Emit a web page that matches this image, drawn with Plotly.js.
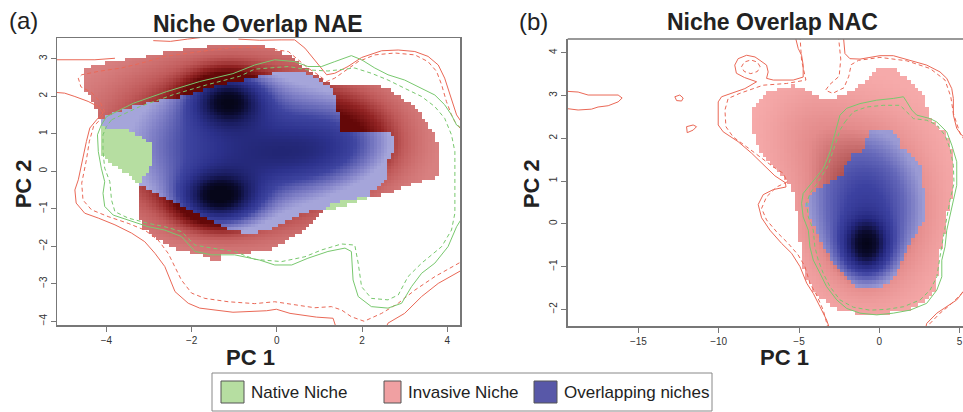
<!DOCTYPE html>
<html><head><meta charset="utf-8">
<script src="https://cdn.plot.ly/plotly-3.0.1.min.js"></script>
<style>html,body{margin:0;padding:0;background:#fff}#chart{width:963px;height:412px}</style>
</head><body><div id="chart"></div>
<script>
// ---------------- Panel (a) NAE : niche outlines (PC1, PC2) ----------------
const nae_inv_x = [-4.49,-4.49,-4.27,-3.80,-3.33,-2.86,-2.39,-1.92,-1.46,-0.91,-0.40,-0.05,0.27,0.50,0.73,0.97,1.17,1.36,1.83,2.22,2.61,2.85,3.16,3.40,3.55,3.71,3.79,3.79,3.75,3.55,3.24,2.93,2.61,2.30,2.07,1.60,1.20,1.05,0.73,0.42,0.11,-0.20,-0.52,-0.83,-1.30,-1.34,-1.53,-1.85,-2.39,-2.79,-3.14,-3.27,-3.27,-3.20,-3.14,-2.90,-2.90,-3.41,-4.12,-4.15,-4.19,-4.27,-4.39];
const nae_inv_y = [2.08,2.75,2.82,2.94,3.01,3.12,3.22,3.28,3.37,3.41,3.37,3.23,3.10,2.92,2.70,2.52,2.39,2.30,2.32,2.30,2.21,2.03,1.77,1.50,1.23,0.97,0.70,0.17,-0.19,-0.23,-0.32,-0.45,-0.59,-0.66,-0.68,-0.78,-0.93,-1.08,-1.48,-1.74,-1.92,-2.10,-2.14,-2.21,-2.23,-2.35,-2.35,-2.21,-2.05,-1.83,-1.52,-1.12,-0.45,-0.30,-0.14,0.17,0.70,1.06,1.19,1.35,1.50,1.72,2.03];
const nae_nat_x = [-4.14,-4.08,-4.04,-3.65,-3.18,-2.71,-2.16,-1.85,-1.30,-0.83,-0.40,-0.20,0.19,0.58,0.85,1.05,1.28,1.40,1.44,1.48,2.22,2.61,2.77,2.77,2.65,2.61,2.54,2.35,2.22,2.14,1.83,1.52,1.17,1.05,0.73,0.42,0.11,-0.20,-0.52,-0.99,-1.30,-1.69,-2.08,-2.47,-2.86,-3.22,-3.41,-3.80,-4.14];
const nae_nat_y = [1.10,1.37,1.46,1.63,1.77,1.90,2.01,2.12,2.30,2.41,2.52,2.59,2.66,2.66,2.52,2.39,2.21,1.95,1.59,1.01,1.01,1.01,0.92,0.61,0.43,0.08,-0.30,-0.42,-0.55,-0.72,-0.84,-0.94,-1.08,-1.03,-1.08,-1.21,-1.39,-1.57,-1.65,-1.61,-1.43,-1.25,-1.03,-0.81,-0.59,-0.37,-0.14,0.12,0.43];
// density kernels read from the shading (centre, spread, weight)
const nae_k_x  = [-0.9, -1.15, -1.35, 1.6, 0.6];
const nae_k_y  = [0.7, 1.9, -0.7, 1.0, 0.4];
const nae_k_sx = [1.8, 0.55, 0.6, 0.9, 1.1];
const nae_k_sy = [1.3, 0.45, 0.45, 0.7, 0.55];
const nae_k_w  = [0.55, 0.7, 0.8, 0.2, 0.22];
// contour lines
const nae_red_solid_x = [-5.3,-4.7,-4.27,-3.8,null,-2.9,-2.5,-2.1,-1.8,null,
 -5.3,-4.98,-4.74,-4.43,-4.19,-4.08,-4.23,-4.39,-4.47,-4.55,-4.62,-4.66,-4.74,-4.71,-4.51,-4.19,-3.80,-3.41,-3.10,-2.86,-2.63,-2.51,-2.39,-2.08,-1.81,-1.03,-0.24,-0.01,0.31,0.93,1.32,1.40,null,
 2.55,2.61,3.00,3.40,3.79,4.40,null,
 -0.9,-0.4,0.1,0.42,0.66,0.85,1.05,1.17,1.36,1.67,1.99,2.46,2.85,3.24,3.55,3.79,3.94,4.10,4.22,4.40];
const nae_red_solid_y = [2.97,2.98,2.97,3.01,null,3.48,3.46,3.52,3.56,null,
 2.11,2.08,1.99,1.86,1.72,1.55,1.37,1.15,0.79,0.35,-0.10,-0.23,-0.50,-0.85,-1.12,-1.25,-1.43,-1.65,-1.88,-2.19,-2.54,-2.90,-3.21,-3.52,-3.65,-3.76,-3.72,-3.68,-3.79,-3.89,-3.92,-4.20,null,
 -4.20,-4.05,-3.79,-3.34,-2.99,-2.60,null,
 3.52,3.49,3.50,3.50,3.28,3.01,2.75,2.57,2.61,2.79,3.03,3.21,3.23,3.19,3.06,2.83,2.48,1.95,1.50,1.20];
const nae_red_dash_x = [4.40,4.18,4.10,3.98,3.87,3.75,3.55,3.24,2.77,2.30,1.91,1.60,1.36,1.17,0.97,0.73,0.50,0.27,-0.44,-0.99,-1.53,-2.08,-2.63,-3.18,-3.65,-4.19,-4.58,-4.66,-4.60,-4.35,-4.15,-4.05,-4.12,-4.30,-4.40,-4.47,-4.55,-4.58,-4.55,-4.35,-3.96,-3.49,-3.10,-2.79,-2.55,-2.39,-2.24,-2.00,-1.69,-1.14,-0.52,-0.05,0.42,0.89,1.28,1.52,1.75,2.05,2.46,2.85,3.24,3.71,4.40];
const nae_red_dash_y = [1.00,1.32,1.50,1.86,2.30,2.66,2.92,3.10,3.15,3.10,2.92,2.66,2.48,2.39,2.57,2.75,2.97,3.19,3.30,3.30,3.23,3.15,3.06,2.88,2.75,2.66,2.57,2.48,2.25,2.10,1.85,1.60,1.40,1.20,0.80,0.30,-0.20,-0.32,-0.77,-1.03,-1.21,-1.39,-1.57,-1.83,-2.19,-2.54,-2.90,-3.25,-3.39,-3.48,-3.53,-3.48,-3.57,-3.64,-3.61,-3.70,-3.88,-4.00,-3.79,-3.52,-3.17,-2.81,-2.37];
const nae_grn_solid_x = [4.40,4.22,4.10,3.94,3.71,3.40,3.00,2.61,2.30,1.99,1.75,1.36,1.05,0.73,0.42,-0.05,-0.52,-1.03,-1.81,-2.59,-3.37,-4.00,-4.12,-4.21,-4.19,-4.12,-4.04,-4.08,-4.04,-3.84,-3.41,-3.02,-2.63,-2.24,-1.92,-1.53,-0.99,-0.40,-0.05,0.35,0.73,1.20,1.60,1.75,1.79,1.91,2.22,2.61,2.93,3.16,3.40,3.71,4.02,4.22,4.40];
const nae_grn_solid_y = [1.10,1.23,1.50,1.77,2.03,2.21,2.43,2.57,2.75,2.97,3.08,2.92,2.79,2.79,2.92,2.97,2.83,2.60,2.39,2.12,1.81,1.45,1.23,0.97,0.52,0.08,-0.28,-0.59,-0.94,-1.17,-1.34,-1.48,-1.57,-1.74,-2.14,-2.23,-2.23,-2.37,-2.50,-2.50,-2.32,-2.14,-2.05,-2.14,-2.90,-3.34,-3.61,-3.65,-3.52,-3.08,-2.72,-2.45,-2.01,-1.48,-1.15];
const nae_grn_dash_x = [-3.88,-3.22,-2.43,-1.65,-0.87,-0.52,0.27,0.73,1.20,1.83,2.22,2.61,3.00,3.40,3.71,3.94,4.10,4.18,4.18,4.18,4.10,3.87,3.40,3.08,2.85,2.61,2.22,1.99,1.91,1.83,1.52,1.05,0.66,0.11,-0.52,-0.99,-1.53,-1.92,-2.24,-2.63,-3.02,-3.49,-3.80,-3.88,-3.92,-4.04,-4.08,-4.08,-4.00,-3.88];
const nae_grn_dash_y = [1.37,1.72,2.04,2.30,2.53,2.72,2.79,2.70,2.67,2.75,2.61,2.43,2.21,1.99,1.72,1.41,0.97,0.52,-0.37,-1.12,-1.57,-2.01,-2.45,-2.81,-3.30,-3.43,-3.39,-3.08,-2.45,-1.97,-1.94,-2.10,-2.28,-2.41,-2.35,-2.14,-2.05,-1.97,-1.61,-1.48,-1.39,-1.25,-1.08,-0.77,-0.28,0.08,0.52,0.97,1.19,1.37];

// ---------------- Panel (b) NAC ----------------
const nac_inv_x = [-7.85,-7.54,-7.02,-6.19,-5.36,-4.74,-4.11,-3.49,-3.07,-2.45,-1.62,-0.79,-0.16,0.25,0.87,1.40,2.12,2.74,2.95,3.05,3.78,4.20,4.40,4.61,4.61,4.51,4.20,4.09,3.89,3.78,3.58,3.36,2.74,1.71,0.46,-1.00,-2.03,-2.87,-3.49,-4.11,-4.63,-4.84,-4.94,-5.05,-5.25,-5.36,-5.56,-6.19,-6.81,-7.43,-7.74,-7.85];
const nac_inv_y = [2.66,2.89,3.05,3.16,3.24,3.16,3.05,2.93,2.89,2.97,3.12,3.36,3.59,3.67,3.67,3.51,3.28,3.05,2.81,2.50,2.27,2.11,1.96,1.57,0.86,0.55,0.16,-0.22,-0.46,-1.00,-1.32,-1.63,-1.86,-2.02,-2.09,-2.11,-2.06,-1.94,-1.78,-1.55,-1.24,-0.85,-0.38,0.09,0.48,0.71,0.94,1.18,1.41,1.64,1.96,2.27];
const nac_nat_x = [-0.68,0.87,1.18,1.40,2.12,2.64,2.74,2.85,2.85,2.33,1.91,1.50,1.08,0.67,0.04,-0.79,-1.41,-2.03,-2.65,-3.07,-3.49,-3.90,-4.21,-4.52,-4.32,-3.69,-2.87,-2.24,-2.03,-1.62,-1.00,-0.79];
const nac_nat_y = [2.19,2.23,2.03,1.80,1.57,1.33,0.86,0.55,0.09,-0.22,-0.46,-0.85,-1.16,-1.39,-1.49,-1.51,-1.47,-1.24,-1.00,-0.77,-0.54,-0.22,0.09,0.44,0.63,0.86,1.02,1.14,1.41,1.64,1.72,1.96];
const nac_k_x  = [-0.8, -0.8, -4.5];
const nac_k_y  = [-0.5, 0.4, 2.2];
const nac_k_sx = [0.9, 2.6, 2.0];
const nac_k_sy = [0.4, 1.3, 0.8];
const nac_k_w  = [0.9, 0.5, 0.12];
const nac_red_solid_x = [-19.6,-18.75,-18.13,-16.26,-16.01,-16.26,-16.88,-17.51,-17.92,-18.75,-19.6,null,
 -12.73,-12.42,-12.21,-12.31,-12.62,-12.73,null,
 -12.00,-11.59,-11.38,-11.59,-11.96,-12.00,null,
 -5.25,-5.05,-4.84,-4.74,-4.74,-5.36,-6.60,-7.02,-6.92,-7.02,-7.43,-7.74,-8.26,-8.79,-9.00,-8.90,-8.40,-7.90,-7.64,-8.37,-9.20,-9.82,-10.03,-10.03,-9.72,-8.79,-7.95,-7.10,-6.50,-5.85,-5.81,-6.60,-7.23,-7.54,-7.33,-6.81,-6.08,-5.46,-4.94,-4.52,-4.11,-3.69,-3.28,-3.05,null,
 -2.24,-2.14,-1.83,-1.20,0.04,0.87,1.91,2.95,3.78,4.20,4.51,4.61,4.61,4.82,5.13,5.40,null,
 2.85,2.95,3.58,4.20,4.82,5.40];
const nac_red_solid_y = [3.10,3.08,3.01,3.01,2.94,2.85,2.76,2.73,2.68,2.66,2.70,null,
 2.97,3.01,2.94,2.87,2.88,2.97,null,
 2.27,2.31,2.27,2.19,2.13,2.27,null,
 4.40,4.10,3.94,3.71,3.43,3.36,3.36,3.40,3.55,3.71,3.82,3.90,3.94,3.86,3.71,3.52,3.42,3.36,3.32,3.16,3.05,2.97,2.85,2.31,2.15,1.92,1.65,1.35,1.12,0.96,0.86,0.80,0.68,0.45,0.14,-0.15,-0.46,-0.69,-1.00,-1.39,-1.63,-1.94,-2.25,-2.50,null,
 4.40,3.98,3.86,3.85,3.93,3.93,3.82,3.71,3.55,3.40,3.16,2.93,2.54,2.23,2.07,2.00,null,
 -2.50,-2.33,-2.09,-1.94,-1.78,-1.50];
const nac_red_dash_x = [-4.94,-4.84,-4.57,-5.77,-7.23,-8.68,-9.41,-9.61,-9.55,-9.10,-8.26,-7.43,-6.60,-5.98,-5.73,-6.39,-7.02,-7.33,-7.02,-6.39,-5.67,-5.05,-4.63,-4.32,-3.90,-3.49,-3.24,-3.15,null,
 -7.42,-7.59,-8.00,-8.41,-8.58,-8.41,-8.00,-7.59,-7.42,null,
 -2.55,-2.40,-2.50,-3.10,-3.35,-2.90,-2.20,-1.90,-1.75,-1.30,0.04,1.71,3.16,4.09,4.45,4.61,5.03,5.40,null,
 3.00,3.16,3.78,4.40,5.03,5.40];
const nac_red_dash_y = [4.40,3.82,3.36,3.28,3.24,3.05,2.93,2.66,2.27,2.03,1.80,1.57,1.33,1.18,0.98,0.86,0.63,0.36,0.09,-0.19,-0.46,-0.73,-1.00,-1.39,-1.67,-2.02,-2.37,-2.50,null,
 3.67,3.78,3.83,3.78,3.67,3.56,3.51,3.56,3.67,null,
 4.40,3.85,3.45,3.25,3.12,3.05,3.18,3.45,3.72,3.82,3.89,3.81,3.63,3.36,2.97,2.58,2.11,1.90,null,
 -2.50,-2.33,-2.09,-1.90,-1.67,-1.50];
const nac_grn_solid_x = [-2.45,-2.03,-1.20,-0.16,0.87,1.50,1.71,2.02,2.33,3.16,3.58,4.20,4.51,4.82,4.82,4.61,4.40,4.20,4.09,3.89,3.89,3.58,2.95,1.91,0.87,-0.16,-1.20,-2.03,-2.65,-3.28,-3.69,-4.11,-4.32,-4.42,-4.74,-4.84,-4.74,-4.20,-3.49,-3.07,-2.65,-2.45];
const nac_grn_solid_y = [2.54,2.70,2.81,2.89,2.93,2.97,2.85,2.66,2.54,2.46,2.38,2.15,1.84,1.45,0.90,0.55,0.24,-0.15,-0.54,-0.85,-1.24,-1.55,-1.86,-2.02,-2.09,-2.13,-2.09,-1.98,-1.78,-1.47,-1.16,-0.85,-0.54,-0.15,0.16,0.48,0.71,0.95,1.29,1.68,2.23,2.54];
const nac_grn_dash_x = [-2.14,-1.62,-0.79,0.25,1.29,1.71,2.12,2.95,3.58,4.09,4.40,4.61,4.65,4.40,4.20,3.99,3.78,3.58,3.16,2.54,1.50,0.46,-0.58,-1.62,-2.45,-3.07,-3.49,-3.80,-4.01,-4.11,-4.42,-4.52,-4.32,-3.85,-3.18,-2.76,-2.45,-2.14];
const nac_grn_dash_y = [2.38,2.62,2.73,2.77,2.77,2.62,2.46,2.42,2.31,2.07,1.76,1.37,0.95,0.55,0.16,-0.30,-0.77,-1.24,-1.55,-1.78,-1.94,-2.00,-2.02,-1.95,-1.78,-1.47,-1.16,-0.85,-0.54,-0.15,0.16,0.48,0.71,0.95,1.37,1.84,2.19,2.38];

// ---------------- ticks / text ----------------
const nae_xticks = [-4,-2,0,2,4];
const nae_yticks = [-4,-3,-2,-1,0,1,2,3];
const nac_xticks = [-15,-10,-5,0,5];
const nac_yticks = [-2,-1,0,1,2,3,4];
const legend_labels = ["Native Niche","Invasive Niche","Overlapping niches"];
const legend_colors = ["rgb(182,222,161)","rgb(240,160,162)","rgb(88,88,168)"];

// ---------------- helpers ----------------
function inPoly(px,py,xs,ys){let c=false;for(let i=0,j=xs.length-1;i<xs.length;j=i++){if(((ys[i]>py)!==(ys[j]>py))&&(px<(xs[j]-xs[i])*(py-ys[i])/(ys[j]-ys[i])+xs[i]))c=!c;}return c;}
function dens(x,y,kx,ky,ksx,ksy,kw){let s=0;for(let i=0;i<kx.length;i++){const a=(x-kx[i])/ksx[i],b=(y-ky[i])/ksy[i];s+=kw[i]*Math.exp(-0.5*(a*a+b*b));}return s;}
function grid(x0,x1,dx,y0,y1,dy,ix,iy,nx,ny,kx,ky,ksx,ksy,kw){
  const gx=[],gy=[];for(let x=x0;x<=x1+1e-9;x+=dx)gx.push(+x.toFixed(4));for(let y=y0;y<=y1+1e-9;y+=dy)gy.push(+y.toFixed(4));
  const zr=[],zb=[],zg=[];
  for(const y of gy){const rr=[],rb=[],rg=[];for(const x of gx){const I=inPoly(x,y,ix,iy),N=inPoly(x,y,nx,ny);const d=dens(x,y,kx,ky,ksx,ksy,kw);
    rr.push(I&&!N?d:null);rb.push(I&&N?d:null);rg.push(N&&!I?1:null);}zr.push(rr);zb.push(rb);zg.push(rg);}
  return {gx,gy,zr,zb,zg};
}
const A=grid(-5.12,4.28,0.08,-4.05,3.51,0.09,nae_inv_x,nae_inv_y,nae_nat_x,nae_nat_y,nae_k_x,nae_k_y,nae_k_sx,nae_k_sy,nae_k_w);
const B=grid(-10.0,5.2,0.22,-2.35,4.30,0.09,nac_inv_x,nac_inv_y,nac_nat_x,nac_nat_y,nac_k_x,nac_k_y,nac_k_sx,nac_k_sy,nac_k_w);

const greenCS=[[0,'rgb(182,222,161)'],[1,'rgb(182,222,161)']];
const redA=[[0,'rgb(216,128,128)'],[0.3,'rgb(192,90,90)'],[0.65,'rgb(145,35,35)'],[1,'rgb(100,8,8)']];
const blueA=[[0,'rgb(165,165,218)'],[0.1,'rgb(130,130,200)'],[0.3,'rgb(62,68,160)'],[0.47,'rgb(44,49,140)'],[0.7,'rgb(25,28,95)'],[0.88,'rgb(10,10,45)'],[1,'rgb(6,6,25)']];
const redB=[[0,'rgb(246,170,170)'],[0.5,'rgb(228,140,140)'],[1,'rgb(172,78,78)']];
const blueB=[[0,'rgb(155,155,212)'],[0.12,'rgb(100,103,185)'],[0.25,'rgb(60,65,160)'],[0.5,'rgb(35,38,125)'],[0.8,'rgb(12,12,50)'],[1,'rgb(5,5,25)']];

function hm(G,z,cs,zmin,zmax,xa,ya){return {type:'heatmap',x:G.gx,y:G.gy,z:z,colorscale:cs,zmin:zmin,zmax:zmax,showscale:false,hoverinfo:'skip',zsmooth:false,xaxis:xa,yaxis:ya};}
const RED='rgb(234,104,86)', GRN='rgb(120,200,110)';
function ln(x,y,c,dash,xa,ya){return {type:'scatter',mode:'lines',x:x,y:y,line:{color:c,width:1,dash:dash},connectgaps:false,hoverinfo:'skip',xaxis:xa,yaxis:ya,showlegend:false};}

const data=[
 hm(A,A.zg,greenCS,0,1,'x','y'), hm(A,A.zr,redA,0.03,0.36,'x','y'), hm(A,A.zb,blueA,0.2,1.05,'x','y'),
 ln(nae_red_solid_x,nae_red_solid_y,RED,'solid','x','y'), ln(nae_red_dash_x,nae_red_dash_y,RED,'4px,3px','x','y'),
 ln(nae_grn_solid_x,nae_grn_solid_y,GRN,'solid','x','y'), ln(nae_grn_dash_x,nae_grn_dash_y,GRN,'4px,3px','x','y'),
 hm(B,B.zg,greenCS,0,1,'x2','y2'), hm(B,B.zr,redB,0.03,0.40,'x2','y2'), hm(B,B.zb,blueB,0.2,1.3,'x2','y2'),
 ln(nac_red_solid_x,nac_red_solid_y,RED,'solid','x2','y2'), ln(nac_red_dash_x,nac_red_dash_y,RED,'4px,3px','x2','y2'),
 ln(nac_grn_solid_x,nac_grn_solid_y,GRN,'solid','x2','y2'), ln(nac_grn_dash_x,nac_grn_dash_y,GRN,'4px,3px','x2','y2')
];

const W=963,H=412;
const px=v=>v/W, py=v=>1-v/H;
const FONT='"Liberation Sans", Arial, sans-serif';
function ann(text,x,y,size,o){return Object.assign({text:text,x:px(x),y:py(y),xref:'paper',yref:'paper',showarrow:false,xanchor:'center',yanchor:'middle',font:{family:FONT,size:size,color:'#222'}},o||{});}
const axBase={showgrid:false,zeroline:false,showline:true,linecolor:'#777',linewidth:1.5,ticks:'outside',ticklen:5,tickcolor:'#777',tickwidth:1,tickfont:{family:FONT,size:10,color:'#333'},fixedrange:true};

const annotations=[
 ann('<b>Niche Overlap NAE</b>',257.5,23.5,23),
 ann('<b>Niche Overlap NAC</b>',772,21.5,23),
 ann('(a)',23.5,21,24),
 ann('(b)',533.5,22,24),
 ann('<b>PC 1</b>',250,357,22),
 ann('<b>PC 1</b>',784,357,22),
 ann('<b>PC 2</b>',23.3,184,22,{textangle:-90}),
 ann('<b>PC 2</b>',531.7,183.5,22,{textangle:-90}),
 ann(legend_labels[0],249,392,17,{xanchor:'left'}),
 ann(legend_labels[1],406,392,17,{xanchor:'left'}),
 ann(legend_labels[2],562,392,17,{xanchor:'left'})
];
function rect(x0,x1,y0,y1,fill,lc){return {type:'rect',xref:'paper',yref:'paper',x0:px(x0),x1:px(x1),y0:py(y1),y1:py(y0),fillcolor:fill,line:{color:lc,width:1}};}
const shapes=[
 rect(212,712,373,411,'rgba(0,0,0,0)','#888'),
 rect(221,244,381,403,legend_colors[0],'#555'),
 rect(384,401,381,403,legend_colors[1],'#555'),
 rect(534,557,381,403,legend_colors[2],'#555'),
 {type:'line',xref:'paper',yref:'paper',x0:px(567.7),x1:1,y0:py(39),y1:py(39),line:{color:'#777',width:1.5}}
];

const layout={width:W,height:H,margin:{l:0,r:0,t:0,b:0},paper_bgcolor:'#fff',plot_bgcolor:'#fff',showlegend:false,hovermode:false,
 xaxis:Object.assign({},axBase,{domain:[px(57),px(460)],range:[-5.16,4.30],tickvals:nae_xticks,anchor:'y',mirror:true}),
 yaxis:Object.assign({},axBase,{domain:[py(325),py(38)],range:[-4.10,3.55],tickvals:nae_yticks,tickangle:-90,anchor:'x',mirror:true}),
 xaxis2:Object.assign({},axBase,{domain:[px(567.7),1],range:[-19.4,5.21],tickvals:nac_xticks,anchor:'y2',mirror:false}),
 yaxis2:Object.assign({},axBase,{domain:[py(326),py(39)],range:[-2.39,4.32],tickvals:nac_yticks,tickangle:-90,anchor:'x2',mirror:false}),
 annotations:annotations,shapes:shapes};
Plotly.newPlot('chart',data,layout,{staticPlot:true,displayModeBar:false});
</script></body></html>
